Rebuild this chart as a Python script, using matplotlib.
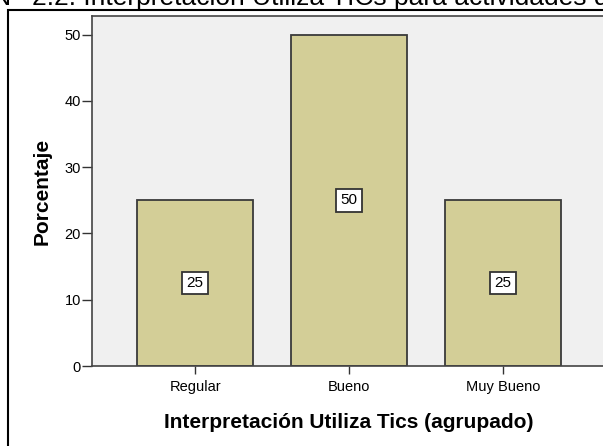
import matplotlib.pyplot as plt
from matplotlib.patches import Rectangle

plt.rcParams['font.family'] = ['Liberation Sans', 'DejaVu Sans']

# datos del gráfico
categorias = ['Regular', 'Bueno', 'Muy Bueno']
porcentajes = [25, 50, 25]
etiquetas = ['25', '50', '25']
y_ticks = [0, 10, 20, 30, 40, 50]

W, H = 603, 446
fig = plt.figure(figsize=(W / 100, H / 100), dpi=100)

# marco exterior (cortado a la derecha y abajo)
fig.patches.append(Rectangle((8 / W, -0.1), 1.2, 1 - 10 / H + 0.1,
                             transform=fig.transFigure, fill=False,
                             edgecolor='black', linewidth=1.5))

# titulo cortado arriba
fig.text(32 / W, 1 - 5 / H, '2.2. Interpretación Utiliza TICs para actividades de aprendizaje',
         fontsize=19, ha='left', va='baseline')
fig.text(22 / W, 1 - 5 / H, 'Figura N°', fontsize=19, ha='right', va='baseline')

ax = fig.add_axes([92 / W, (H - 366) / H, (606 - 92) / W, (366 - 16) / H])
ax.set_facecolor('#f0f0f0')

x = range(len(categorias))
ax.bar(x, porcentajes, width=0.75, color='#d3ce97', edgecolor='#3a3a3a', linewidth=1.3)

for i, (v, t) in enumerate(zip(porcentajes, etiquetas)):
    ax.text(i, v / 2, t, ha='center', va='center', fontsize=11,
            bbox=dict(boxstyle='square,pad=0.28', facecolor='white',
                      edgecolor='#333333', linewidth=1.3))

ax.set_xlim(-0.67, 2.67)
ax.set_ylim(0, 52.8)
ax.set_xticks(list(x))
ax.set_xticklabels(categorias, fontsize=10.5)
ax.set_yticks(y_ticks)
ax.set_yticklabels([str(t) for t in y_ticks], fontsize=10.5)
ax.tick_params(axis='y', length=7, width=1, color='#333333', pad=1)
ax.tick_params(axis='x', length=6, width=1, color='#333333', pad=4)

for s in ['left', 'bottom', 'top']:
    ax.spines[s].set_color('#444444')
    ax.spines[s].set_linewidth(1.2)
ax.spines['right'].set_visible(False)

ax.set_xlabel('Interpretación Utiliza Tics (agrupado)', fontsize=15, fontweight='bold', labelpad=14)
ax.set_ylabel('Porcentaje', fontsize=15, fontweight='bold', labelpad=9)

plt.savefig('out.png', dpi=100)
